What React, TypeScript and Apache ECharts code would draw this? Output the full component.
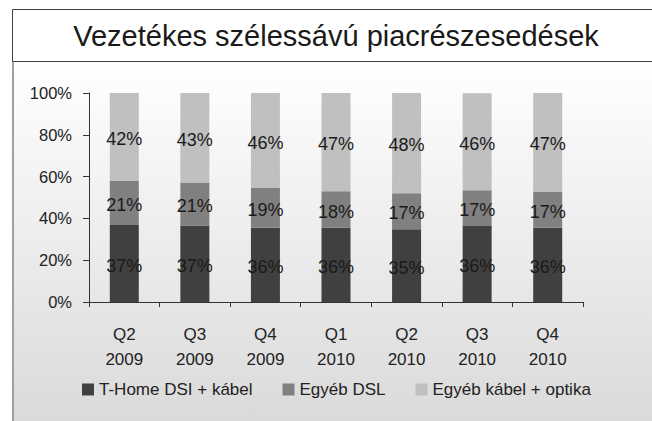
import React, { useEffect, useRef } from "react";
import * as echarts from "echarts";

const titleText = "Vezetékes szélessávú piacrészesedések";
const categories = ["Q2\n2009", "Q3\n2009", "Q4\n2009", "Q1\n2010", "Q2\n2010", "Q3\n2010", "Q4\n2010"];
const seriesNames = ["T-Home DSI + kábel", "Egyéb DSL", "Egyéb kábel + optika"];
const tHome = [36.8, 36.6, 35.5, 35.5, 34.8, 36.4, 35.5];
const otherDsl = [21.1, 20.6, 19.0, 17.5, 17.2, 17.1, 17.4];
const otherCable = [42.1, 42.8, 45.5, 47.0, 48.0, 46.4, 47.1];
const yTicks = { min: 0, max: 100, interval: 20 };
const colors = ["#404040", "#808080", "#c0c0c0"];

const FONT = "'Liberation Sans', Arial, sans-serif";

export default function App() {
  const ref = useRef<HTMLDivElement>(null);
  useEffect(() => {
    if (!ref.current) return;
    const chart = echarts.init(ref.current, null, { renderer: "svg" });
    const values = [tHome, otherDsl, otherCable];
    chart.setOption({
      animation: false,
      textStyle: { fontFamily: FONT },
      graphic: [
        {
          type: "rect",
          z: -10,
          shape: { x: 12, y: 62, width: 660, height: 370 },
          style: {
            fill: new echarts.graphic.LinearGradient(0, 0, 0, 1, [
              { offset: 0, color: "#ffffff" },
              { offset: 1, color: "#d9d9d9" },
            ]),
          },
        },
        {
          type: "line",
          z: -5,
          shape: { x1: 13, y1: 62, x2: 13, y2: 430 },
          style: { stroke: "#a0a0a0", lineWidth: 2 },
        },
        {
          type: "rect",
          z: -5,
          shape: { x: 12.5, y: 9.5, width: 700, height: 52 },
          style: { fill: "#ffffff", stroke: "#404040", lineWidth: 1 },
        },
        {
          type: "text",
          z: 10,
          x: 336,
          y: 36,
          style: {
            text: titleText,
            fontFamily: FONT,
            fontSize: 29,
            fill: "#1a1a1a",
            align: "center",
            verticalAlign: "middle",
          },
        },
      ],
      grid: { left: 89, right: 69, top: 93, bottom: 119, containLabel: false },
      legend: {
        data: seriesNames,
        left: 77,
        top: 376,
        icon: "rect",
        itemWidth: 12,
        itemHeight: 12,
        itemGap: 30,
        textStyle: { fontSize: 17, color: "#222", fontFamily: FONT },
      },
      xAxis: {
        type: "category",
        data: categories,
        axisLine: { lineStyle: { color: "#333", width: 1 } },
        axisTick: { show: true, length: 5, alignWithLabel: false, lineStyle: { color: "#333" } },
        axisLabel: {
          fontSize: 17,
          lineHeight: 25,
          color: "#222",
          margin: 20,
          fontFamily: FONT,
          interval: 0,
        },
      },
      yAxis: {
        type: "value",
        min: yTicks.min,
        max: yTicks.max,
        interval: yTicks.interval,
        splitLine: { show: false },
        axisLine: { show: true, lineStyle: { color: "#333", width: 1 } },
        axisTick: { show: true, length: 6, lineStyle: { color: "#333" } },
        axisLabel: {
          formatter: "{value}%",
          fontSize: 16.5,
          color: "#222",
          margin: 17,
          fontFamily: FONT,
        },
      },
      series: seriesNames.map((name, i) => ({
        name,
        type: "bar",
        stack: "total",
        barWidth: 29,
        data: values[i],
        itemStyle: { color: colors[i] },
        label: {
          show: true,
          position: "inside",
          offset: [0, 2],
          fontSize: 18,
          color: "#1a1a1a",
          fontFamily: FONT,
          formatter: (p: any) => Math.round(p.value) + "%",
        },
      })),
    });
    return () => chart.dispose();
  }, []);
  return (
    <div
      ref={ref}
      style={{ position: "absolute", left: 0, top: 0, width: 652, height: 421 }}
    />
  );
}
